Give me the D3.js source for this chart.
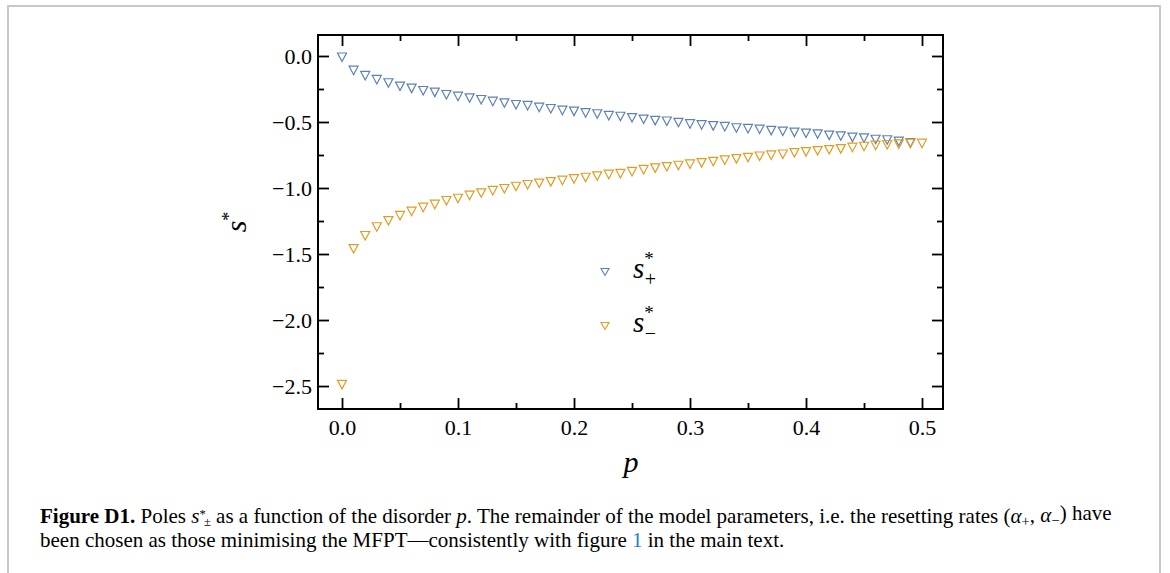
<!DOCTYPE html>
<html>
<head>
<meta charset="utf-8">
<script src="https://cdn.jsdelivr.net/npm/d3@7"></script>
<style>
  body { margin: 0; background: #fff; }
  svg text { font-family: "Liberation Serif", "Times New Roman", Times, Tinos, "Nimbus Roman", FreeSerif, serif; }
</style>
</head>
<body>
<div id="chart"></div>
<script>
// disorder values p = 0, 0.01, ...
var pPlus = d3.range(0, 50).map(function (i) { return i / 100; });
var pMinus = d3.range(0, 51).map(function (i) { return i / 100; });

// s*_+ (blue)
var sPlus = [0.0, -0.10, -0.14, -0.17, -0.195, -0.22, -0.236, -0.254, -0.266, -0.284,
  -0.297, -0.309, -0.322, -0.335, -0.347, -0.36, -0.367, -0.38, -0.39, -0.403,
  -0.41, -0.422, -0.43, -0.443, -0.449, -0.459, -0.47, -0.48, -0.485, -0.495,
  -0.505, -0.513, -0.52, -0.526, -0.536, -0.541, -0.546, -0.556, -0.561, -0.569,
  -0.576, -0.582, -0.592, -0.597, -0.607, -0.612, -0.623, -0.627, -0.638, -0.648];

// s*_- (orange)
var sMinus = [-2.48, -1.451, -1.352, -1.286, -1.239, -1.20, -1.168, -1.138, -1.115, -1.087,
  -1.07, -1.047, -1.029, -1.011, -0.996, -0.979, -0.966, -0.955, -0.944, -0.933,
  -0.922, -0.911, -0.90, -0.888, -0.882, -0.867, -0.852, -0.84, -0.83, -0.82,
  -0.81, -0.80, -0.79, -0.78, -0.77, -0.76, -0.75, -0.742, -0.735, -0.724,
  -0.717, -0.709, -0.701, -0.694, -0.683, -0.676, -0.668, -0.663, -0.658, -0.653, -0.653];

var xTicks = [0, 0.1, 0.2, 0.3, 0.4, 0.5];
var xMinor = [0.05, 0.15, 0.25, 0.35, 0.45];
var yTicks = [0, -0.5, -1, -1.5, -2, -2.5];
var yMinor = [-0.25, -0.75, -1.25, -1.75, -2.25];

var blue = "#5e81b5", orange = "#e19c24";
var serif = "'Liberation Serif', 'Times New Roman', Times, Tinos, 'Nimbus Roman', FreeSerif, serif";

var W = 1170, H = 573;
var margin = { top: 35, left: 318 },
  width = 625,
  height = 374;

var svg = d3.select("#chart").append("svg")
  .attr("width", W).attr("height", H);

// page frame
svg.append("rect")
  .attr("x", 8).attr("y", 6)
  .attr("width", 1152).attr("height", 600)
  .attr("fill", "none").attr("stroke", "#c8c8c8").attr("stroke-width", 2);

var g = svg.append("g")
  .attr("transform", "translate(" + margin.left + "," + margin.top + ")");

var x = d3.scaleLinear().domain([-0.0207, 0.5181]).range([0, width]);
var y = d3.scaleLinear().domain([-2.674, 0.159]).range([height, 0]);

function fmt(d) { return d3.format(".1f")(d).replace("-", "\u2212"); }

function styleAxis(sel) {
  sel.select(".domain").remove();
  sel.selectAll("line").attr("stroke", "#000").attr("stroke-width", 1.8);
  sel.selectAll("text").attr("font-size", 22).attr("fill", "#000")
    .style("font-family", serif);
}

// bottom
g.append("g").attr("transform", "translate(0," + height + ")")
  .call(d3.axisBottom(x).tickValues(xTicks).tickSize(-11).tickFormat(fmt))
  .call(styleAxis)
  .call(function (s) { s.selectAll("text").attr("y", 26).attr("dy", 0); });
g.append("g").attr("transform", "translate(0," + height + ")")
  .call(d3.axisBottom(x).tickValues(xMinor).tickSize(-6).tickFormat(""))
  .call(styleAxis);
// top
g.append("g")
  .call(d3.axisTop(x).tickValues(xTicks).tickSize(-11).tickFormat(""))
  .call(styleAxis);
g.append("g")
  .call(d3.axisTop(x).tickValues(xMinor).tickSize(-6).tickFormat(""))
  .call(styleAxis);
// left
g.append("g")
  .call(d3.axisLeft(y).tickValues(yTicks).tickSize(-11).tickPadding(6).tickFormat(fmt))
  .call(styleAxis);
g.append("g")
  .call(d3.axisLeft(y).tickValues(yMinor).tickSize(-6).tickFormat(""))
  .call(styleAxis);
// right
g.append("g").attr("transform", "translate(" + width + ",0)")
  .call(d3.axisRight(y).tickValues(yTicks).tickSize(-11).tickFormat(""))
  .call(styleAxis);
g.append("g").attr("transform", "translate(" + width + ",0)")
  .call(d3.axisRight(y).tickValues(yMinor).tickSize(-6).tickFormat(""))
  .call(styleAxis);

// frame
g.append("rect")
  .attr("width", width).attr("height", height)
  .attr("fill", "none").attr("stroke", "#000").attr("stroke-width", 2);

// downward triangle marker
var tri = "M-4.5,-3L4.5,-3L0,5.5Z";

g.append("g").selectAll("path")
  .data(pPlus.map(function (p, i) { return [p, sPlus[i]]; }))
  .enter().append("path")
  .attr("d", tri)
  .attr("transform", function (d) { return "translate(" + x(d[0]) + "," + y(d[1]) + ")"; })
  .attr("fill", "none").attr("stroke", blue).attr("stroke-width", 1.2);

g.append("g").selectAll("path")
  .data(pMinus.map(function (p, i) { return [p, sMinus[i]]; }))
  .enter().append("path")
  .attr("d", tri)
  .attr("transform", function (d) { return "translate(" + x(d[0]) + "," + y(d[1]) + ")"; })
  .attr("fill", "none").attr("stroke", orange).attr("stroke-width", 1.2);

// axis labels
var yl = svg.append("text")
  .attr("transform", "translate(246,222) rotate(-90)")
  .attr("text-anchor", "middle")
  .attr("font-size", 30).attr("font-style", "italic");
yl.append("tspan").text("s");
yl.append("tspan").attr("dy", -11).attr("font-size", 18).attr("font-style", "normal").text("*");

svg.append("text")
  .attr("x", 631).attr("y", 472)
  .attr("text-anchor", "middle")
  .attr("font-size", 30).attr("font-style", "italic")
  .text("p");

// legend
var legend = [{ c: blue, sub: "+", y: 271 }, { c: orange, sub: "\u2212", y: 325 }];
legend.forEach(function (l) {
  svg.append("path").attr("d", "M-4,-2.5L4,-2.5L0,4.5Z")
    .attr("transform", "translate(605," + l.y + ")")
    .attr("fill", "none").attr("stroke", l.c).attr("stroke-width", 1.1);
  var t = svg.append("text").attr("x", 633).attr("y", l.y + 7).attr("font-size", 29);
  t.append("tspan").attr("font-style", "italic").text("s");
  t.append("tspan").attr("dy", -13).attr("font-size", 19).text("*");
  t.append("tspan").attr("dx", -9).attr("dy", 21).attr("font-size", 20).text(l.sub);
});

// caption
var c1 = svg.append("text").attr("x", 40).attr("y", 523).attr("font-size", 17);
c1.append("tspan").attr("font-weight", "bold").text("Figure D1.");
c1.append("tspan").text(" Poles ");
c1.append("tspan").attr("font-style", "italic").text("s");
c1.append("tspan").attr("dy", "-0.4em").attr("font-size", "0.6em").text("*");
c1.append("tspan").attr("dx", "-0.15em").attr("dy", "0.65em").attr("font-size", "0.6em").text("\u00b1");
c1.append("tspan").attr("dy", "-0.15em").text(" as a function of the disorder ");
c1.append("tspan").attr("font-style", "italic").text("p");
c1.append("tspan").text(". The remainder of the model parameters, i.e. the resetting rates (");
c1.append("tspan").attr("font-style", "italic").text("\u03b1");
c1.append("tspan").attr("dy", "0.2em").attr("font-size", "0.7em").text("+");
c1.append("tspan").attr("dy", "-0.2em").text(", ");
c1.append("tspan").attr("font-style", "italic").text("\u03b1");
c1.append("tspan").attr("dy", "0.2em").attr("font-size", "0.7em").text("\u2212");
c1.append("tspan").attr("dy", "-0.2em").text(") have");

var c2 = svg.append("text").attr("x", 40).attr("y", 547).attr("font-size", 17);
c2.append("tspan").text("been chosen as those minimising the MFPT\u2014consistently with figure ");
c2.append("tspan").attr("fill", "#1a84c7").text("1");
c2.append("tspan").text(" in the main text.");

// fit caption to the width of the reference line
var len = c1.node().getComputedTextLength();
var fs = Math.min(21, 17 * 1100 / len);
c1.attr("font-size", fs);
c2.attr("font-size", fs);
</script>
</body>
</html>
